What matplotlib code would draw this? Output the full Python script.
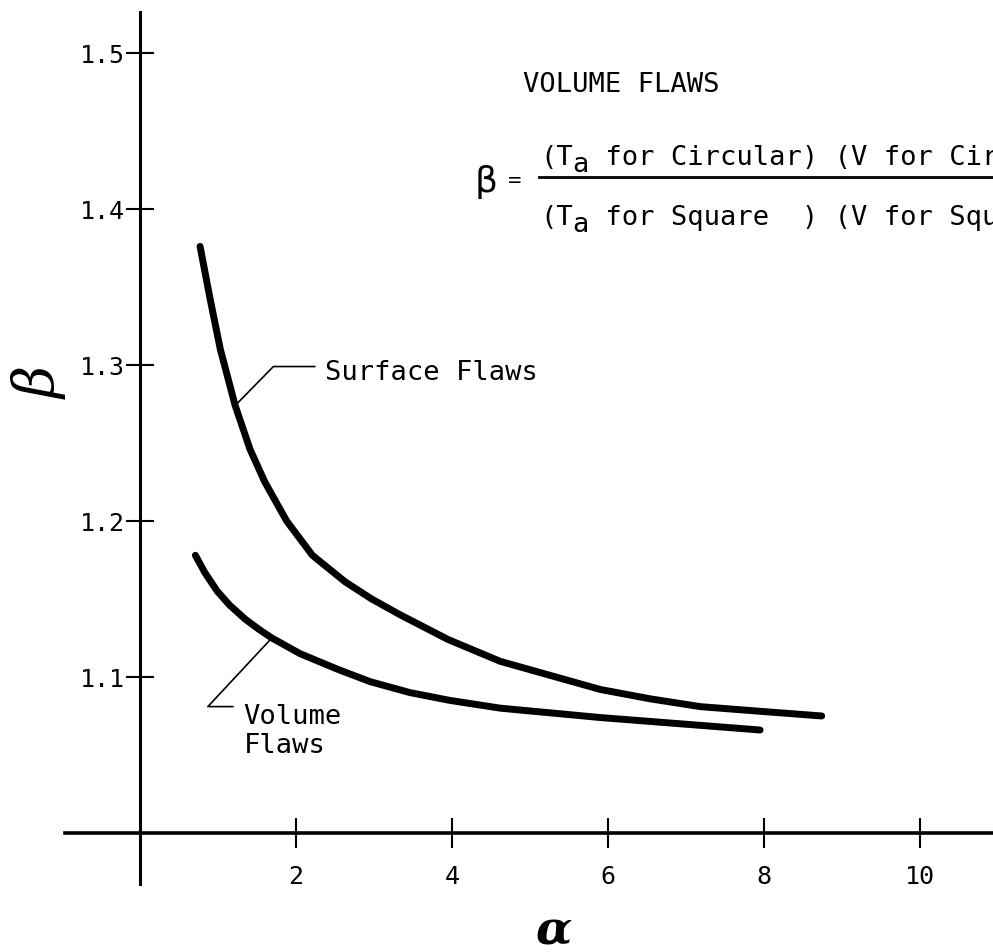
import numpy as np
import matplotlib
matplotlib.use("Agg")
import matplotlib.pyplot as plt

# ==================================================
# DATE
# ==================================================
surface_alpha = [0.77, 0.90, 1.03, 1.22, 1.41, 1.60, 1.88, 2.21, 2.63, 2.97,
                 3.33, 3.95, 4.62, 5.26, 5.90, 6.54, 7.18, 7.95, 8.74]
surface_beta = [1.376, 1.342, 1.310, 1.274, 1.246, 1.225, 1.200, 1.178, 1.161, 1.150,
                1.140, 1.124, 1.110, 1.101, 1.092, 1.086, 1.081, 1.078, 1.075]

volume_alpha = [0.71, 0.83, 0.99, 1.15, 1.35, 1.54, 1.69, 2.05, 2.53, 2.95,
                3.46, 3.97, 4.62, 5.26, 5.90, 6.54, 7.18, 7.95]
volume_beta = [1.178, 1.167, 1.155, 1.146, 1.137, 1.130, 1.125, 1.115, 1.105, 1.097,
               1.090, 1.085, 1.080, 1.077, 1.074, 1.0715, 1.069, 1.066]

x_ticks = [2, 4, 6, 8, 10]
y_ticks = [1.1, 1.2, 1.3, 1.4, 1.5]
y_labels = ["1.1", "1.2", "1.3", "1.4", "1.5"]

mono = "DejaVu Sans Mono"
fs = 19.5

# ==================================================
# FIGURA
# ==================================================
fig = plt.figure(figsize=(9.93, 9.53), dpi=100)
ax = fig.add_axes([0, 0, 1, 1])
ax.set_xlim(-1.795, 10.936)
ax.set_ylim(0.9237, 1.5346)

# axe in cruce (0, 1.0)
ax.spines["top"].set_visible(False)
ax.spines["right"].set_visible(False)
ax.spines["left"].set_position(("data", 0))
ax.spines["bottom"].set_position(("data", 1.0))
ax.spines["left"].set_bounds(0.967, 1.526)
ax.spines["bottom"].set_bounds(-0.96, 10.94)
ax.spines["left"].set_linewidth(2.2)
ax.spines["bottom"].set_linewidth(2.6)

ax.set_xticks(x_ticks)
ax.set_xticklabels([str(t) for t in x_ticks], family=mono, fontsize=18)
ax.set_yticks(y_ticks)
ax.set_yticklabels(y_labels, family=mono, fontsize=18)
ax.tick_params(axis="x", direction="inout", length=21, width=1.5, pad=12)
ax.tick_params(axis="y", direction="inout", length=20, width=1.5, pad=1)

# ==================================================
# CURBE
# ==================================================
ax.plot(surface_alpha, surface_beta, color="black", lw=5,
        solid_capstyle="round", solid_joinstyle="round")
ax.plot(volume_alpha, volume_beta, color="black", lw=5,
        solid_capstyle="round", solid_joinstyle="round")

# linii de legatura pentru etichete (pornesc de pe curba)
ax.plot([surface_alpha[3], 1.71, 2.24], [surface_beta[3], 1.299, 1.299],
        color="black", lw=1.2)
ax.text(2.37, 1.291, "Surface Flaws", family=mono, fontsize=fs, va="baseline")

ax.plot([volume_alpha[6], 0.87, 1.19], [volume_beta[6], 1.081, 1.081],
        color="black", lw=1.2)
ax.text(1.33, 1.083, "Volume\nFlaws", family=mono, fontsize=fs, va="top",
        linespacing=1.15)

# ==================================================
# FORMULA
# ==================================================
ax.text(4.91, 1.4756, "VOLUME FLAWS", family=mono, fontsize=fs, va="baseline")

ax.text(4.436, 1.418, "β", family="DejaVu Sans", fontsize=26, ha="center", va="center")
ax.text(4.81, 1.4186, "=", family=mono, fontsize=16, ha="center", va="center")

char_w = 0.602 * fs  # latimea unui caracter monospace, in puncte
rows = [
    ((5.128, 1.4288), " for Circular) (V for Circular)"),
    ((5.128, 1.3904), " for Square  ) (V for Square)"),
]
for xy, rest in rows:
    ax.text(*xy, "(T", family=mono, fontsize=fs, va="baseline")
    ax.annotate("a", xy=xy, xytext=(2 * char_w, -5), textcoords="offset points",
                family=mono, fontsize=fs, va="baseline")
    ax.annotate(rest, xy=xy, xytext=(3 * char_w, 0), textcoords="offset points",
                family=mono, fontsize=fs, va="baseline", annotation_clip=False)

ax.plot([5.115, 11.0], [1.4205, 1.4205], color="black", lw=2)

# ==================================================
# ETICHETE AXE
# ==================================================
ax.text(5.295, 0.9295, "α", family="DejaVu Serif", style="italic", weight="bold",
        fontsize=34, ha="center", va="baseline")
ax.text(-1.28, 1.289, "β", family="DejaVu Serif", style="italic",
        fontsize=40, rotation=90, ha="center", va="center")

fig.savefig("out.png", dpi=100)
